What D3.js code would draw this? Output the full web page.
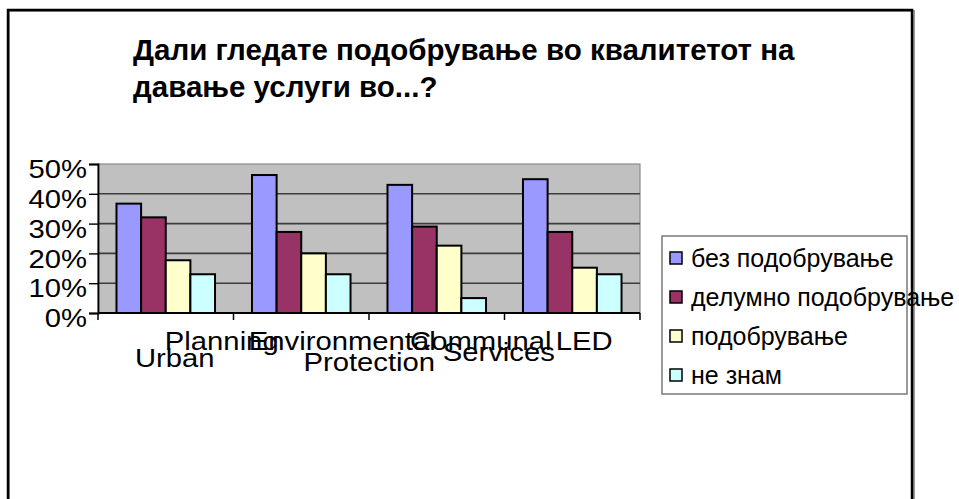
<!DOCTYPE html>
<html><head><meta charset="utf-8">
<script src="https://cdn.jsdelivr.net/npm/d3@7"></script>
<style>
html,body{margin:0;padding:0;background:#fff;}
svg{display:block;}
text{font-family:Arial,"Liberation Sans",sans-serif;fill:#000;}
</style></head>
<body>
<svg id="chart" width="959" height="499"></svg>
<script>
// ---- data ----
const titleLines = ["Дали гледате подобрување во квалитетот на", "давање услуги во...?"];
const categories = ["Urban Planning", "Environmental Protection", "Communal Services", "LED"];
const seriesNames = ["без подобрување", "делумно подобрување", "подобрување", "не знам"];
const bezPodobruvanje = [36.7, 46.3, 43.0, 44.9];
const delumnoPodobruvanje = [32.1, 27.2, 29.0, 27.2];
const podobruvanje = [17.7, 20.0, 22.6, 15.2];
const neZnam = [13.0, 13.0, 5.0, 13.0];
const yTickValues = [0, 10, 20, 30, 40, 50];
const seriesColors = ["#9999FF", "#993366", "#FFFFCC", "#CCFFFF"];

const seriesValues = [bezPodobruvanje, delumnoPodobruvanje, podobruvanje, neZnam];

// ---- layout ----
const svg = d3.select("#chart");
const plot = {left: 98, right: 640, top: 164, bottom: 313};
const stretch = 1.17;

// outer frame
svg.append("rect").attr("x", 9).attr("y", 11).attr("width", 905).attr("height", 520)
  .attr("fill", "none").attr("stroke", "#999").attr("stroke-width", 2);
svg.append("rect").attr("x", 8).attr("y", 10).attr("width", 904).attr("height", 520)
  .attr("fill", "none").attr("stroke", "#000").attr("stroke-width", 2.5);

// title
const title = svg.append("g");
titleLines.forEach((t, i) => {
  title.append("text").attr("x", 133).attr("y", 60 + i * 37)
    .attr("font-size", 29.5).attr("font-weight", "bold").text(t);
});

// scales
const x0 = d3.scaleBand().domain(categories).range([plot.left, plot.right]).paddingInner(0).paddingOuter(0);
const bw = x0.bandwidth();
const x1 = d3.scaleBand().domain(seriesNames).range([bw * 0.75 / 5.5, bw * 4.75 / 5.5]).padding(0);
const y = d3.scaleLinear().domain([0, 50]).range([plot.bottom, plot.top]);

// plot background
svg.append("rect").attr("x", plot.left).attr("y", plot.top)
  .attr("width", plot.right - plot.left).attr("height", plot.bottom - plot.top)
  .attr("fill", "#C0C0C0").attr("stroke", "#8a8a8a").attr("stroke-width", 1.2);

// gridlines
svg.append("g").selectAll("line").data(yTickValues.filter(v => v > 0 && v < 50)).join("line")
  .attr("x1", plot.left).attr("x2", plot.right)
  .attr("y1", d => y(d)).attr("y2", d => y(d))
  .attr("stroke", "#3c3c3c").attr("stroke-width", 1.6);

// bars
const groups = svg.append("g").selectAll("g").data(categories).join("g")
  .attr("transform", d => `translate(${x0(d)},0)`);
groups.selectAll("rect").data((c, ci) => seriesNames.map((s, si) => ({s, si, v: seriesValues[si][ci]})))
  .join("rect")
  .attr("x", d => x1(d.s)).attr("width", x1.bandwidth())
  .attr("y", d => y(d.v)).attr("height", d => y(0) - y(d.v))
  .attr("fill", d => seriesColors[d.si]).attr("stroke", "#000").attr("stroke-width", 2);

// y axis
const yAxis = svg.append("g").attr("transform", `translate(${plot.left},0)`)
  .call(d3.axisLeft(y).tickValues(yTickValues).tickSize(9).tickFormat(d => d + "%"));
yAxis.select(".domain").attr("stroke", "#000").attr("stroke-width", 1.8);
yAxis.selectAll(".tick line").attr("stroke", "#000").attr("stroke-width", 1.4);
yAxis.selectAll(".tick text")
  .attr("font-size", 25).attr("font-family", "Arial, 'Liberation Sans', sans-serif")
  .attr("fill", "#000").attr("x", 0).attr("dy", "0.55em")
  .attr("transform", `translate(-11,0) scale(${stretch},1)`);

// x axis
const xAxisG = svg.append("g");
xAxisG.append("line").attr("x1", plot.left).attr("x2", plot.right)
  .attr("y1", plot.bottom).attr("y2", plot.bottom).attr("stroke", "#000").attr("stroke-width", 2);
const boundaries = categories.map(c => x0(c)).concat([x0(categories[categories.length - 1]) + bw]);
xAxisG.selectAll("line.tk").data(boundaries).join("line").attr("class", "tk")
  .attr("x1", d => d).attr("x2", d => d).attr("y1", plot.bottom).attr("y2", plot.bottom + 7)
  .attr("stroke", "#000").attr("stroke-width", 1.5);

// category labels (overlapping two-line wrapping as in the original rendering)
// per category: per word index -> offset from band centre and baseline
const labelLayout = [
  [{dx: 9, base: 367}, {dx: 56, base: 350}],
  [{dx: 41, base: 350}, {dx: 68, base: 371}],
  [{dx: 44, base: 350}, {dx: 62, base: 361}],
  [{dx: 12, base: 350}]
];
categories.forEach((c, ci) => {
  c.split(" ").forEach((w, wi) => {
    const L = labelLayout[ci][wi];
    const cx = x0(c) + bw / 2 + L.dx;
    svg.append("text").attr("text-anchor", "middle").attr("font-size", 25)
      .attr("transform", `translate(${cx},${L.base}) scale(${stretch},1)`).text(w);
  });
});

// legend
const legend = svg.append("g");
legend.append("rect").attr("x", 662).attr("y", 236).attr("width", 245).attr("height", 158)
  .attr("fill", "none").attr("stroke", "#7a7a7a").attr("stroke-width", 1.5);
const ly = d3.scalePoint().domain(seriesNames).range([258, 375]);
const items = legend.selectAll("g").data(seriesNames).join("g")
  .attr("transform", d => `translate(0,${ly(d)})`);
items.append("rect").attr("x", 670).attr("y", -6).attr("width", 12).attr("height", 12)
  .attr("fill", (d, i) => seriesColors[i]).attr("stroke", "#000").attr("stroke-width", 1.5);
items.append("text").attr("x", 691).attr("dy", "0.36em").attr("font-size", 25).text(d => d);
</script>
</body></html>
